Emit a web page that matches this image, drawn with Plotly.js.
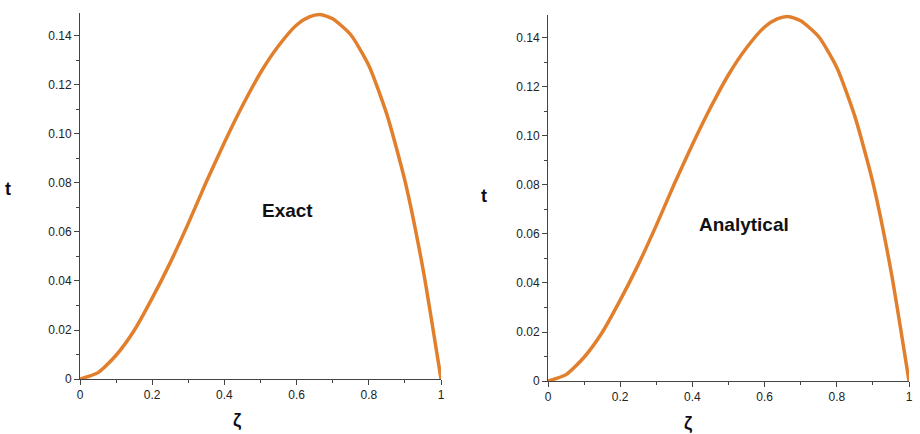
<!DOCTYPE html>
<html>
<head>
<meta charset="utf-8">
<script src="https://cdn.plot.ly/plotly-3.0.1.min.js"></script>
<style>html,body{margin:0;padding:0;background:#fff;}#chart{width:920px;height:434px;}</style>
</head>
<body>
<div id="chart"></div>
<script>
// Data
var zeta = [0, 0.05, 0.1, 0.15, 0.2, 0.25, 0.3, 0.35, 0.4, 0.45, 0.5, 0.55, 0.6, 0.635, 0.665, 0.7, 0.75, 0.8, 0.85, 0.9, 0.95, 1.0];
var tExact = [0, 0.0026, 0.0097, 0.0198, 0.033, 0.0475, 0.0635, 0.0805, 0.0965, 0.1115, 0.125, 0.136, 0.1445, 0.1478, 0.1488, 0.147, 0.1405, 0.128, 0.108, 0.081, 0.045, 0];
var tAnalytical = [0, 0.0026, 0.0097, 0.0198, 0.033, 0.0475, 0.0635, 0.0805, 0.0965, 0.1115, 0.125, 0.136, 0.1445, 0.1478, 0.1488, 0.147, 0.1405, 0.128, 0.108, 0.081, 0.045, 0];
var yTickVals = [0, 0.02, 0.04, 0.06, 0.08, 0.10, 0.12, 0.14];
var yTickText = ["0", "0.02", "0.04", "0.06", "0.08", "0.10", "0.12", "0.14"];
var xTickVals = [0, 0.2, 0.4, 0.6, 0.8, 1];
var xTickText = ["0", "0.2", "0.4", "0.6", "0.8", "1"];
var panelLabels = ["Exact", "Analytical"];
var axisLabelX = "ζ";
var axisLabelY = "t";

var lineColor = "#e17f2c";
var tickFont = {family: "Liberation Sans, Arial, sans-serif", size: 12, color: "#222"};

function xaxisDef(domain, anchor) {
  return {
    domain: domain, anchor: anchor, range: [0, 1],
    showline: true, linecolor: "#444", linewidth: 1,
    ticks: "outside", ticklen: 5, tickcolor: "#444", tickwidth: 1,
    tickmode: "array", tickvals: xTickVals, ticktext: xTickText,
    minor: {ticks: "outside", ticklen: 3, tickcolor: "#444", dtick: 0.1, tick0: 0},
    showgrid: false, zeroline: false, tickfont: tickFont, fixedrange: true
  };
}
function yaxisDef(domain, anchor) {
  return {
    domain: domain, anchor: anchor, range: [0, 0.1495],
    showline: true, linecolor: "#444", linewidth: 1,
    ticks: "outside", ticklen: 5, tickcolor: "#444", tickwidth: 1,
    tickmode: "array", tickvals: yTickVals, ticktext: yTickText,
    minor: {ticks: "outside", ticklen: 3, tickcolor: "#444", dtick: 0.01, tick0: 0},
    showgrid: false, zeroline: false, tickfont: tickFont, fixedrange: true
  };
}

var traces = [
  {x: zeta, y: tExact, xaxis: "x", yaxis: "y", mode: "lines", type: "scatter",
   line: {color: lineColor, width: 3.5, shape: "spline", smoothing: 0.6}, cliponaxis: false, hoverinfo: "skip"},
  {x: zeta, y: tAnalytical, xaxis: "x2", yaxis: "y2", mode: "lines", type: "scatter",
   line: {color: lineColor, width: 3.5, shape: "spline", smoothing: 0.6}, cliponaxis: false, hoverinfo: "skip"}
];

var titleFont = {family: "Liberation Sans, Arial, sans-serif", size: 19, color: "#111"};
var labelFont = {family: "Liberation Sans, Arial, sans-serif", size: 18, color: "#0d0d1a"};

var W = 920, H = 434;
function px(x) { return x / W; }
function py(y) { return 1 - y / H; }

var layout = {
  width: W, height: H,
  margin: {l: 0, r: 0, t: 0, b: 0},
  paper_bgcolor: "#fff", plot_bgcolor: "#fff",
  showlegend: false,
  xaxis: xaxisDef([px(80), px(441)], "y"),
  yaxis: yaxisDef([1 - 379 / H, 1 - 12.7 / H], "x"),
  xaxis2: xaxisDef([px(548), px(909)], "y2"),
  yaxis2: yaxisDef([1 - 381 / H, 1 - 14.7 / H], "x2"),
  annotations: [
    {xref: "paper", yref: "paper", x: px(287), y: py(211), text: "<b>" + panelLabels[0] + "</b>", showarrow: false, font: titleFont, xanchor: "center", yanchor: "middle"},
    {xref: "paper", yref: "paper", x: px(744), y: py(224), text: "<b>" + panelLabels[1] + "</b>", showarrow: false, font: titleFont, xanchor: "center", yanchor: "middle"},
    {xref: "paper", yref: "paper", x: px(8), y: py(189), text: "<b>" + axisLabelY + "</b>", showarrow: false, font: labelFont, xanchor: "center", yanchor: "middle"},
    {xref: "paper", yref: "paper", x: px(484), y: py(196), text: "<b>" + axisLabelY + "</b>", showarrow: false, font: labelFont, xanchor: "center", yanchor: "middle"},
    {xref: "paper", yref: "paper", x: px(237), y: py(420), text: "<b>" + axisLabelX + "</b>", showarrow: false, font: labelFont, xanchor: "center", yanchor: "middle"},
    {xref: "paper", yref: "paper", x: px(688), y: py(423), text: "<b>" + axisLabelX + "</b>", showarrow: false, font: labelFont, xanchor: "center", yanchor: "middle"}
  ]
};

Plotly.newPlot("chart", traces, layout, {displayModeBar: false, staticPlot: true});
</script>
</body>
</html>
